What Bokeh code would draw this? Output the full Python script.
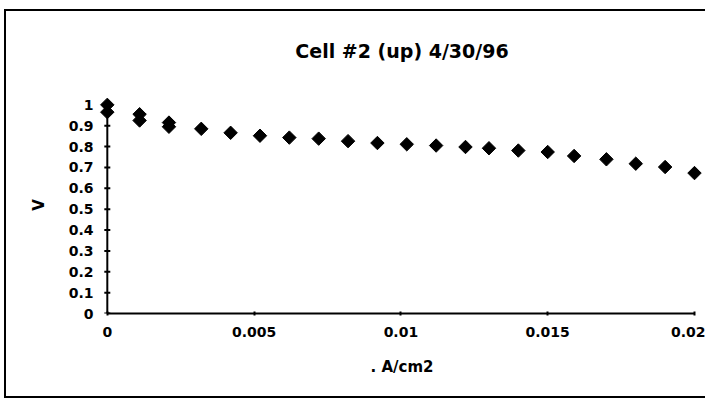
from bokeh.plotting import figure
from bokeh.models import FixedTicker, Range1d, InlineStyleSheet
from bokeh.embed import file_html
from bokeh.resources import INLINE

# Data
current = [0, 0, 0.0011, 0.0011, 0.0021, 0.0021, 0.0032, 0.0042, 0.0052, 0.0062,
           0.0072, 0.0082, 0.0092, 0.0102, 0.0112, 0.0122, 0.0130, 0.0140,
           0.0150, 0.0159, 0.0170, 0.0180, 0.0190, 0.0200]
voltage = [1.0, 0.965, 0.955, 0.925, 0.915, 0.895, 0.885, 0.866, 0.852, 0.843,
           0.838, 0.826, 0.817, 0.811, 0.805, 0.798, 0.792, 0.781, 0.774,
           0.755, 0.739, 0.718, 0.702, 0.673]

x_ticks = [0, 0.005, 0.01, 0.015, 0.02]
x_tick_labels = ["0", "0.005", "0.01", "0.015", "0.02"]
y_ticks = [0, 0.1, 0.2, 0.3, 0.4, 0.5, 0.6, 0.7, 0.8, 0.9, 1.0]
y_tick_labels = ["0", "0.1", "0.2", "0.3", "0.4", "0.5", "0.6", "0.7", "0.8", "0.9", "1"]

title_text = "Cell #2 (up) 4/30/96"
x_label = ". A/cm2"
y_label = "V"

FONT = "DejaVu Sans"

p = figure(width=705, height=400, output_backend="svg", toolbar_location=None,
           x_range=Range1d(-0.0003, 0.020375), y_range=Range1d(0, 1.04),
           min_border_left=98, min_border_right=0, min_border_top=96,
           min_border_bottom=87, title=title_text)

p.stylesheets = [InlineStyleSheet(css=(
    ":host { position: relative; background: white; }"
    ":host::after { content: ''; position: absolute; left: 4px; top: 9px; "
    "right: 0px; bottom: 2px; border: 2px solid black; border-right: none; "
    "pointer-events: none; }"))]

p.title.align = "center"
p.title.text_font = FONT
p.title.text_font_size = "19px"
p.title.text_font_style = "bold"
p.title.text_color = "black"
p.title.standoff = 70

p.grid.visible = False
p.outline_line_color = None
p.background_fill_color = "white"
p.border_fill_color = None

p.scatter(current, voltage, marker="square", angle=0.785398, size=9.5,
          fill_color="black", line_color="black")

# vertical axis line and its tick marks, drawn at x = 0
p.line([x_ticks[0], x_ticks[0]], [y_ticks[0], y_ticks[-1]], line_color="black", line_width=2)
p.scatter([x_ticks[0]] * len(y_ticks), y_ticks, marker="dash", size=6,
          line_color="black", line_width=2)

for ax, ticks, labels in ((p.xaxis[0], x_ticks, x_tick_labels),
                          (p.yaxis[0], y_ticks, y_tick_labels)):
    ax.ticker = FixedTicker(ticks=ticks, minor_ticks=[])
    ax.major_label_overrides = dict(zip(ticks, labels))
    ax.axis_line_color = "black"
    ax.axis_line_width = 2
    ax.major_tick_line_color = "black"
    ax.major_tick_line_width = 2
    ax.major_tick_in = 2
    ax.major_tick_out = 2
    ax.minor_tick_line_color = None
    ax.major_label_text_font = FONT
    ax.major_label_text_font_size = "14px"
    ax.major_label_text_font_style = "bold"
    ax.major_label_text_color = "black"
    ax.axis_label_text_font = FONT
    ax.axis_label_text_font_size = "15px"
    ax.axis_label_text_font_style = "bold"
    ax.axis_label_text_color = "black"

p.yaxis.axis_line_color = None
p.yaxis.major_tick_line_color = None
p.yaxis.major_tick_out = 0
p.yaxis.major_tick_in = 0
p.xaxis.bounds = (0, 0.02)
p.xaxis.axis_label = x_label
p.yaxis.axis_label = y_label
p.xaxis.major_label_standoff = 11
p.yaxis.major_label_standoff = 5
p.xaxis.axis_label_standoff = 18
p.yaxis.axis_label_standoff = 18

open("out.html", "w").write(file_html(p, INLINE))
